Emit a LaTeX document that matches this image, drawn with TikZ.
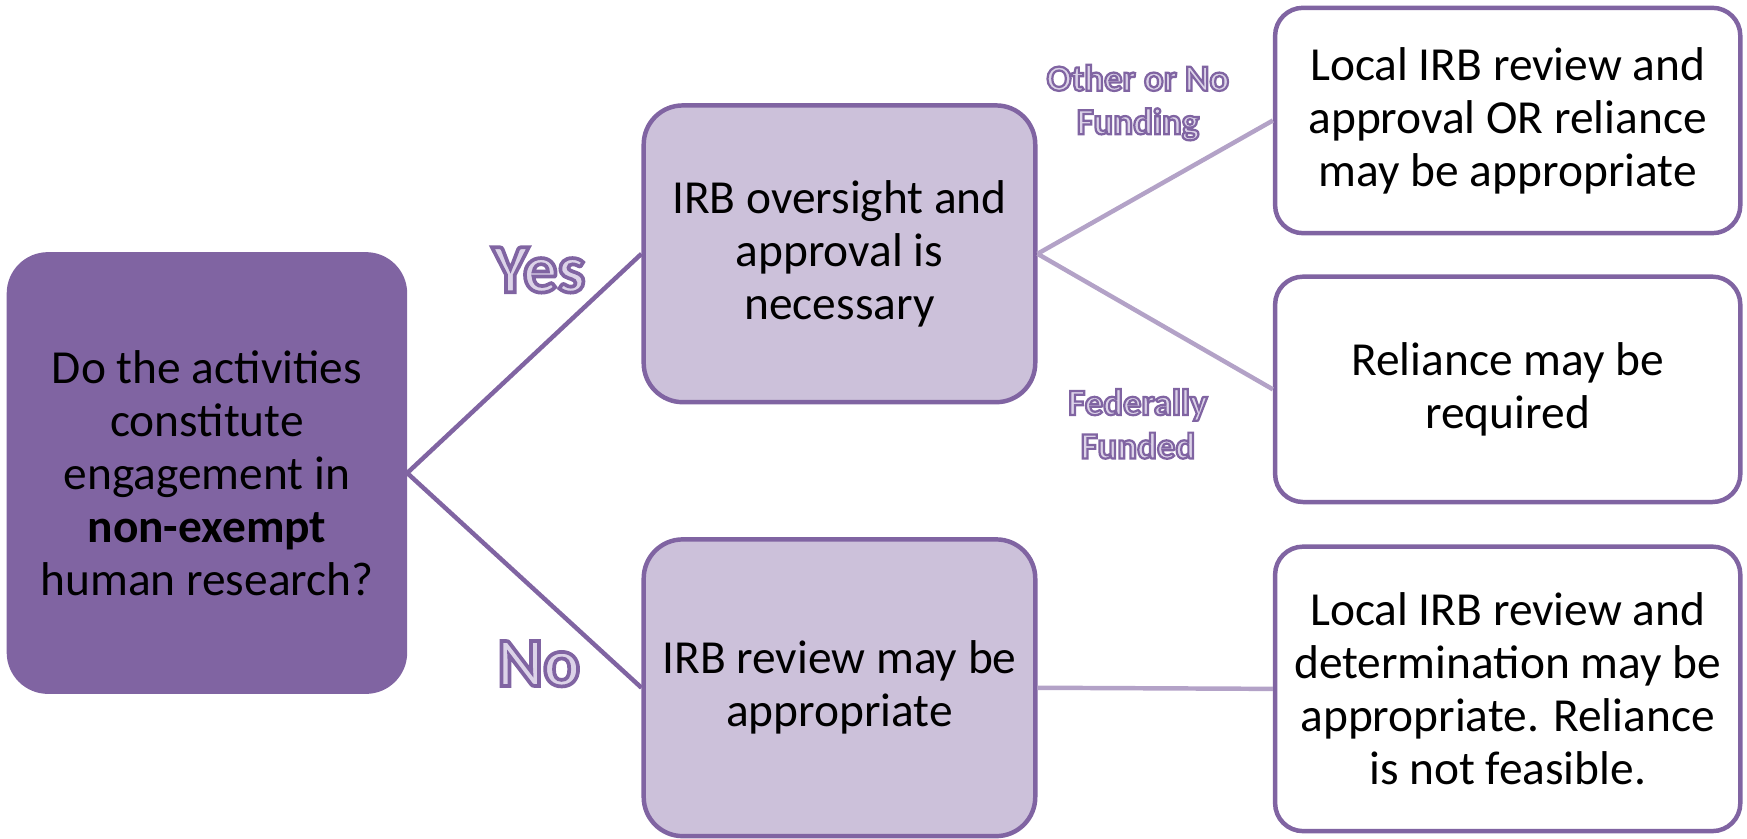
\documentclass[tikz,border=0pt]{standalone}
\usepackage{fontspec}
\setmainfont{Carlito}
\definecolor{dpurp}{HTML}{8064A2}
\definecolor{lpurp}{HTML}{CCC1DA}
\definecolor{lline}{HTML}{B3A2C7}
\definecolor{lblfill}{HTML}{DCD3E8}
\newcommand\outlinedtext[2]{\special{pdf:literal direct 2 Tr #1 w 0.502 0.392 0.635 RG}#2\special{pdf:literal direct 0 Tr}}
\begin{document}
\begin{tikzpicture}[x=0.3pt,y=-0.3pt,
  box/.style={rounded corners=10.5pt, line width=1.2pt, draw=dpurp, align=center, inner sep=0pt,
    font=\fontsize{12.75}{14.25}\selectfont, text=black},
  qbox/.style={box, fill=dpurp, minimum width=106.5pt, minimum height=117.6pt},
  midbox/.style={box, fill=lpurp, minimum width=105.3pt, minimum height=79.8pt},
  resbox/.style={box, fill=white, rounded corners=7.5pt, minimum width=125.1pt},
  dline/.style={draw=dpurp, line width=1.2pt},
  lline/.style={draw=lline, line width=1.2pt},
  biglbl/.style={font=\bfseries\fontsize{18.6}{20}\selectfont, text=lblfill, inner sep=0pt},
  smalllbl/.style={font=\bfseries\fontsize{9.9}{11.7}\selectfont, text=lblfill, align=center, inner sep=0pt}
]
\useasboundingbox (0,0) rectangle (1566,752);
\node[qbox] (q) at (185.5,424) {Do the activities\\constitute\\engagement in\\\textbf{non-exempt}\\human research?};
\node[midbox] (b) at (752.5,227.5) {IRB oversight and\\approval is\\necessary};
\node[midbox] (c) at (752.5,616.5) {IRB review may be\\appropriate};
\node[resbox, minimum height=60.6pt] (r1) at (1351.5,108) {Local IRB review and\\approval OR reliance\\may be appropriate};
\node[resbox, minimum height=60.6pt] (r2) at (1351.5,349) {Reliance may be\\required};
\node[resbox, minimum height=76.5pt] (r3) at (1351.5,617.5) {Local IRB review and\\determination may be\\appropriate. Reliance\\is not feasible.};
\draw[dline] (q.east) -- (b.west);
\draw[dline] (q.east) -- (c.west);
\draw[lline] (b.east) -- (r1.west);
\draw[lline] (b.east) -- (r2.west);
\draw[lline] (c.east) -- (r3.west);
\node[biglbl] (yes) at (483,242) {\outlinedtext{1}{Yes}};
\node[biglbl] (no) at (483,595) {\outlinedtext{1}{No}};
\node[smalllbl] (other) at (1020,92) {\outlinedtext{0.6}{Other or No}\\\outlinedtext{0.6}{Funding}};
\node[smalllbl] (fed) at (1020,380) {\outlinedtext{0.6}{Federally}\\\outlinedtext{0.6}{Funded}};
\end{tikzpicture}
\end{document}
